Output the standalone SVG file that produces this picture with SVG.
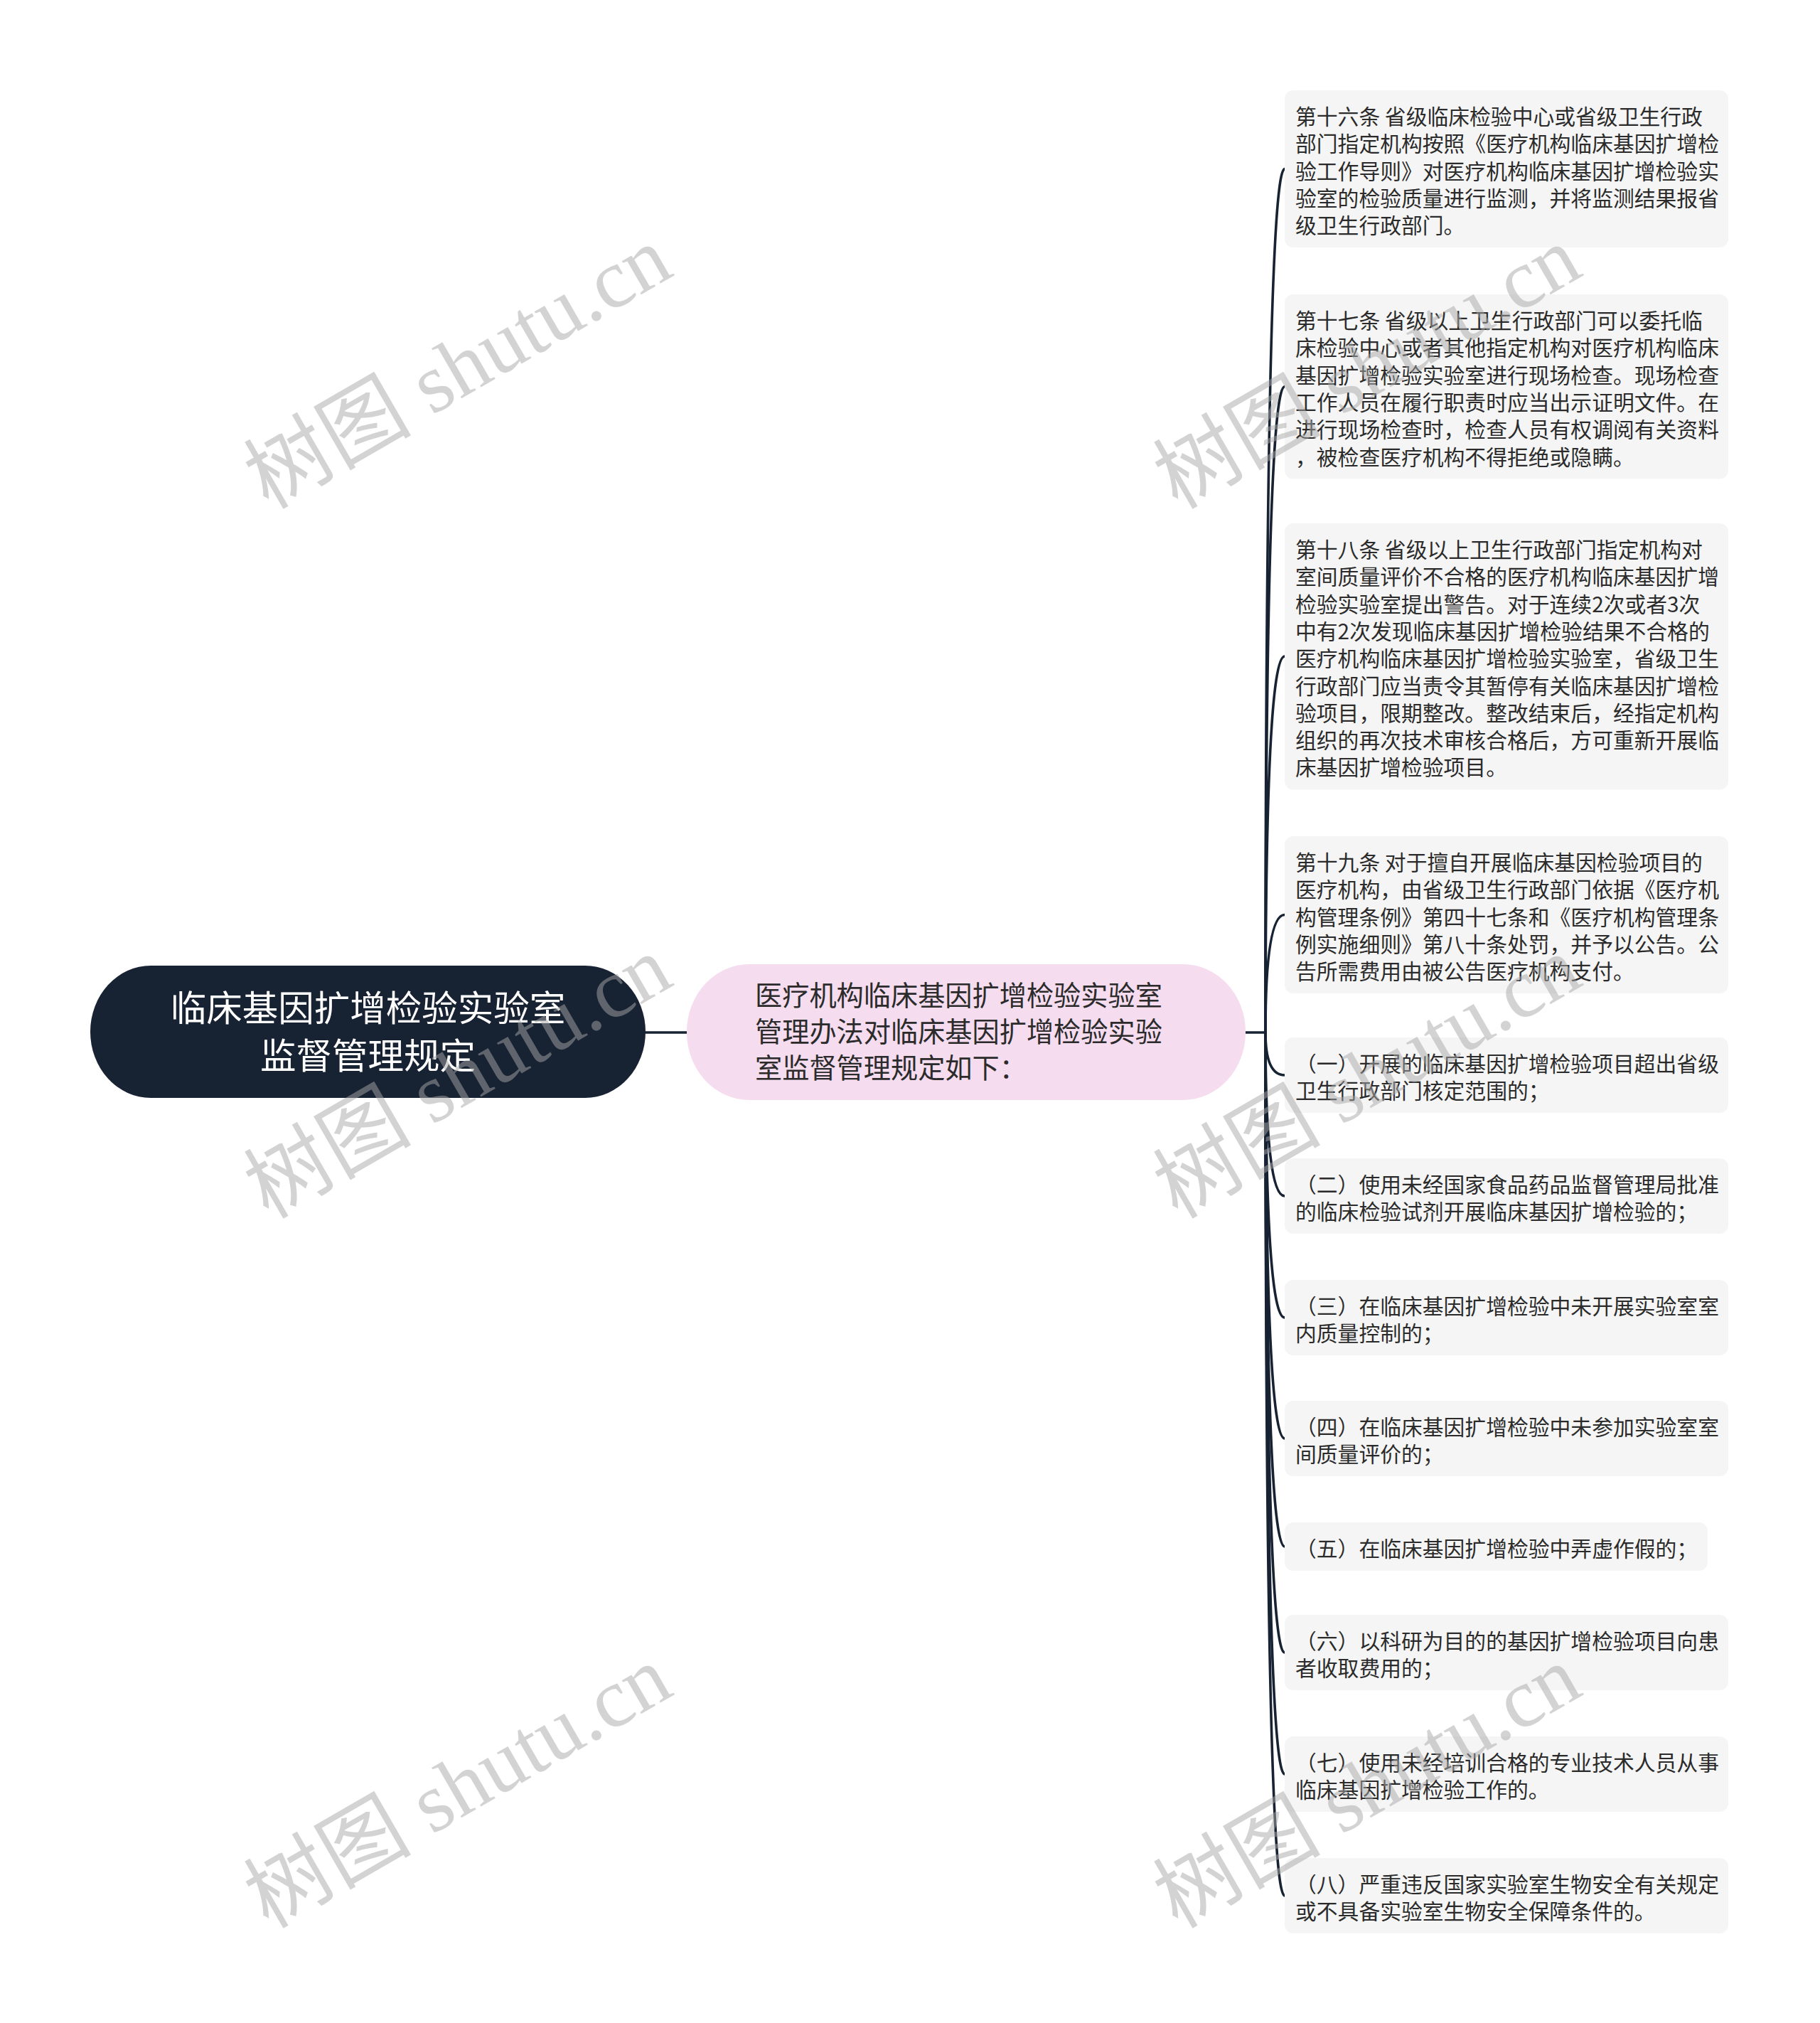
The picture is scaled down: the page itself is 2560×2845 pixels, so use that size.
<svg xmlns="http://www.w3.org/2000/svg" width="2560" height="2845" viewBox="0 0 2560 2845">
<style>
.leaf rect{fill:#f5f5f5}
.leaf text{font-family:"Noto Sans CJK SC","Noto Sans",sans-serif;font-size:29.8px;fill:#2b2b2b}
.conn path,.conn line{fill:none;stroke:#172233;stroke-width:3.6;stroke-linecap:round}
.wm text{font-family:"Liberation Serif","Noto Sans CJK SC",serif;font-size:118px;fill:#a8a8a8;opacity:0.5}
</style>
<rect width="2560" height="2845" fill="#ffffff"/>
<g id="connectors" class="conn">
<line x1="908" y1="1452" x2="966" y2="1452"/>
<line x1="1752" y1="1452" x2="1780" y2="1452"/>
<path d="M1780 1452 Q1780 237.5 1807 237.5"/>
<path d="M1780 1452 Q1780 543.7 1807 543.7"/>
<path d="M1780 1452 Q1780 923 1807 923"/>
<path d="M1780 1452 Q1780 1286.5 1807 1286.5"/>
<path d="M1780 1452 Q1780 1512 1807 1512"/>
<path d="M1780 1452 Q1780 1682 1807 1682"/>
<path d="M1780 1452 Q1780 1853 1807 1853"/>
<path d="M1780 1452 Q1780 2023 1807 2023"/>
<path d="M1780 1452 Q1780 2175 1807 2175"/>
<path d="M1780 1452 Q1780 2324 1807 2324"/>
<path d="M1780 1452 Q1780 2495 1807 2495"/>
<path d="M1780 1452 Q1780 2666 1807 2666"/>
</g>
<g id="root">
<rect x="127" y="1358" width="781" height="186" rx="85" ry="93" fill="#172233"/>
<text font-family="Noto Sans CJK SC, sans-serif" font-size="50.5" fill="#ffffff" text-anchor="middle"><tspan x="517.5" y="1436">临床基因扩增检验实验室</tspan><tspan x="517.5" y="1503">监督管理规定</tspan></text>
</g>
<g id="center">
<rect x="966" y="1356" width="786" height="191" rx="88" ry="95" fill="#f5dcef"/>
<text font-family="Noto Sans CJK SC, sans-serif" font-size="38.2" fill="#2b2b2b"><tspan x="1062" y="1414">医疗机构临床基因扩增检验实验室</tspan><tspan x="1062" y="1465">管理办法对临床基因扩增检验实验</tspan><tspan x="1062" y="1516">室监督管理规定如下：</tspan></text>
</g>
<g id="n16" class="leaf">
<rect x="1807" y="127" width="624" height="221" rx="12"/>
<text xml:space="preserve"><tspan x="1822" y="175">第十六条 省级临床检验中心或省级卫生行政</tspan><tspan x="1822" y="213.3">部门指定机构按照《医疗机构临床基因扩增检</tspan><tspan x="1822" y="251.6">验工作导则》对医疗机构临床基因扩增检验实</tspan><tspan x="1822" y="289.9">验室的检验质量进行监测，并将监测结果报省</tspan><tspan x="1822" y="328.2">级卫生行政部门。</tspan></text>
</g>
<g id="n17" class="leaf">
<rect x="1807" y="414" width="624" height="259.5" rx="12"/>
<text xml:space="preserve"><tspan x="1822" y="462">第十七条 省级以上卫生行政部门可以委托临</tspan><tspan x="1822" y="500.3">床检验中心或者其他指定机构对医疗机构临床</tspan><tspan x="1822" y="538.6">基因扩增检验实验室进行现场检查。现场检查</tspan><tspan x="1822" y="576.9">工作人员在履行职责时应当出示证明文件。在</tspan><tspan x="1822" y="615.2">进行现场检查时，检查人员有权调阅有关资料</tspan><tspan x="1822" y="653.5">，被检查医疗机构不得拒绝或隐瞒。</tspan></text>
</g>
<g id="n18" class="leaf">
<rect x="1807" y="736" width="624" height="374.4" rx="12"/>
<text xml:space="preserve"><tspan x="1822" y="784">第十八条 省级以上卫生行政部门指定机构对</tspan><tspan x="1822" y="822.3">室间质量评价不合格的医疗机构临床基因扩增</tspan><tspan x="1822" y="860.6">检验实验室提出警告。对于连续2次或者3次</tspan><tspan x="1822" y="898.9">中有2次发现临床基因扩增检验结果不合格的</tspan><tspan x="1822" y="937.2">医疗机构临床基因扩增检验实验室，省级卫生</tspan><tspan x="1822" y="975.5">行政部门应当责令其暂停有关临床基因扩增检</tspan><tspan x="1822" y="1013.8">验项目，限期整改。整改结束后，经指定机构</tspan><tspan x="1822" y="1052.1">组织的再次技术审核合格后，方可重新开展临</tspan><tspan x="1822" y="1090.4">床基因扩增检验项目。</tspan></text>
</g>
<g id="n19" class="leaf">
<rect x="1807" y="1176" width="624" height="221" rx="12"/>
<text xml:space="preserve"><tspan x="1822" y="1224">第十九条 对于擅自开展临床基因检验项目的</tspan><tspan x="1822" y="1262.3">医疗机构，由省级卫生行政部门依据《医疗机</tspan><tspan x="1822" y="1300.6">构管理条例》第四十七条和《医疗机构管理条</tspan><tspan x="1822" y="1338.9">例实施细则》第八十条处罚，并予以公告。公</tspan><tspan x="1822" y="1377.2">告所需费用由被公告医疗机构支付。</tspan></text>
</g>
<g id="i1" class="leaf">
<rect x="1807" y="1459" width="624" height="106" rx="12"/>
<text><tspan x="1822" y="1507">（一）开展的临床基因扩增检验项目超出省级</tspan><tspan x="1822" y="1545.3">卫生行政部门核定范围的；</tspan></text>
</g>
<g id="i2" class="leaf">
<rect x="1807" y="1629" width="624" height="106" rx="12"/>
<text><tspan x="1822" y="1677">（二）使用未经国家食品药品监督管理局批准</tspan><tspan x="1822" y="1715.3">的临床检验试剂开展临床基因扩增检验的；</tspan></text>
</g>
<g id="i3" class="leaf">
<rect x="1807" y="1800" width="624" height="106" rx="12"/>
<text><tspan x="1822" y="1848">（三）在临床基因扩增检验中未开展实验室室</tspan><tspan x="1822" y="1886.3">内质量控制的；</tspan></text>
</g>
<g id="i4" class="leaf">
<rect x="1807" y="1970" width="624" height="106" rx="12"/>
<text><tspan x="1822" y="2018">（四）在临床基因扩增检验中未参加实验室室</tspan><tspan x="1822" y="2056.3">间质量评价的；</tspan></text>
</g>
<g id="i5" class="leaf">
<rect x="1807" y="2141" width="595" height="68" rx="12"/>
<text><tspan x="1822" y="2189">（五）在临床基因扩增检验中弄虚作假的；</tspan></text>
</g>
<g id="i6" class="leaf">
<rect x="1807" y="2271" width="624" height="106" rx="12"/>
<text><tspan x="1822" y="2319">（六）以科研为目的的基因扩增检验项目向患</tspan><tspan x="1822" y="2357.3">者收取费用的；</tspan></text>
</g>
<g id="i7" class="leaf">
<rect x="1807" y="2442" width="624" height="106" rx="12"/>
<text><tspan x="1822" y="2490">（七）使用未经培训合格的专业技术人员从事</tspan><tspan x="1822" y="2528.3">临床基因扩增检验工作的。</tspan></text>
</g>
<g id="i8" class="leaf">
<rect x="1807" y="2613" width="624" height="106" rx="12"/>
<text><tspan x="1822" y="2661">（八）严重违反国家实验室生物安全有关规定</tspan><tspan x="1822" y="2699.3">或不具备实验室生物安全保障条件的。</tspan></text>
</g>
<g id="watermarks" class="wm">
<text transform="translate(644 517) rotate(-30)" x="0" y="40" text-anchor="middle">树图 shutu.cn</text>
<text transform="translate(1923 517) rotate(-30)" x="0" y="40" text-anchor="middle">树图 shutu.cn</text>
<text transform="translate(644 1515) rotate(-30)" x="0" y="40" text-anchor="middle">树图 shutu.cn</text>
<text transform="translate(1923 1515) rotate(-30)" x="0" y="40" text-anchor="middle">树图 shutu.cn</text>
<text transform="translate(644 2513) rotate(-30)" x="0" y="40" text-anchor="middle">树图 shutu.cn</text>
<text transform="translate(1923 2513) rotate(-30)" x="0" y="40" text-anchor="middle">树图 shutu.cn</text>
</g>
</svg>
